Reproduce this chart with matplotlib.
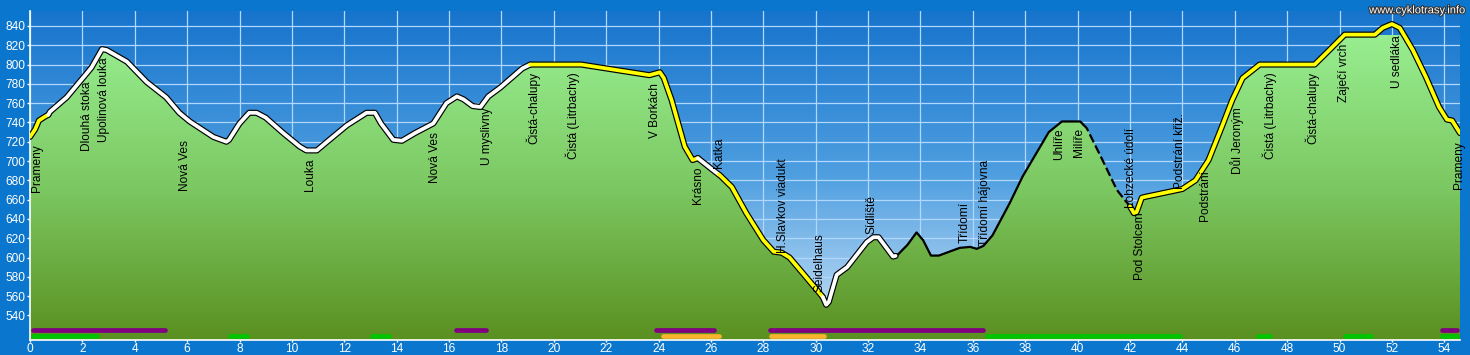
import numpy as np
import matplotlib
matplotlib.use('Agg')
import matplotlib.pyplot as plt
from matplotlib.colors import LinearSegmentedColormap
from matplotlib.patches import Polygon
import matplotlib.patheffects as pe

plt.rcParams['font.family'] = ['Liberation Sans', 'DejaVu Sans']

# profil trasy: vzdalenost (km) a nadmorska vyska (m)
km = [0.0, 0.2, 0.34, 0.57, 0.7, 0.76, 1.4, 2.2, 2.35, 2.75, 2.93, 3.7, 4.45, 5.2,
      5.7, 6.1, 7.0, 7.5, 7.6, 8.0, 8.37, 8.65, 9.0, 9.67, 10.3, 10.55, 10.95, 11.3,
      12.1, 12.85, 13.17, 13.4, 13.87, 14.2, 14.7, 15.4, 15.9, 16.3, 16.55, 16.9,
      17.2, 17.5, 17.95, 18.8, 19.1, 21.05, 23.65, 24.05, 24.2, 24.5, 24.75, 25.0,
      25.3, 25.5, 26.2, 26.35, 26.8, 27.35, 28.0, 28.4, 28.7, 29.0, 29.5, 30.15,
      30.27, 30.4, 30.5, 30.8, 31.2, 31.95, 32.2, 32.4, 32.95, 33.1, 33.5, 33.85,
      34.1, 34.4, 34.7, 35.5, 35.9, 36.15, 36.4, 36.75, 37.4, 37.9, 38.9, 39.4,
      40.1, 40.35, 40.95, 41.5, 41.85, 42.0, 42.15, 42.25, 42.45, 42.6, 44.0, 44.5,
      45.0, 45.5, 45.9, 46.3, 46.95, 49.05, 49.5, 50.2, 51.35, 51.65, 52.0, 52.3,
      52.8, 53.3, 53.8, 54.1, 54.3, 54.6]
elev = [725, 733, 742, 746, 748, 751, 766, 792, 797, 816, 815, 803, 782, 766,
        750, 741, 725, 720, 722, 739, 750, 750, 745, 729, 715, 711, 711, 719,
        737, 750, 750, 739, 722, 721, 729, 739, 760, 767, 764, 757,
        756, 767, 776, 796, 800, 800, 789, 792, 786, 763, 739, 715,
        701, 703, 688, 685, 673, 646, 618, 606, 605, 600, 584, 563,
        559, 551, 554, 582, 590, 616, 621, 621, 601, 602, 613, 626,
        618, 602, 602, 610, 611, 609, 612, 623, 656, 684, 730, 741,
        741, 734, 701, 670, 658, 653, 646, 647, 662, 663, 671, 680,
        701, 735, 763, 786, 800, 800, 812, 831, 831, 838, 842, 838,
        815, 787, 756, 743, 742, 729]

# typ povrchu / useku: od km, do km, styl
seg_from = [0.0, 0.7, 19.1, 25.5, 26.3, 30.27, 33.05, 40.2, 42.0]
seg_to = [0.7, 19.1, 25.5, 26.3, 30.27, 33.05, 40.2, 42.0, 54.6]
seg_style = ['yellow', 'white', 'yellow', 'white', 'yellow', 'white', 'thin', 'dashed', 'yellow']

# popisky mist
names = ['Prameny', 'Dlouhá stoka', 'Upolinová louka', 'Nová Ves', 'Louka', 'Nová Ves',
         'U myslivny', 'Čistá-chalupy', 'Čistá (Litrbachy)', 'V Borkách', 'Krásno', 'Katka',
         'H.Slavkov viadukt', 'Seidelhaus', 'Sídliště', 'Třídomí', 'Třídomí hájovna',
         'Uhlíře', 'Milíře', 'Lobzecké údolí', 'Pod Stolcem', 'Podstrání křiž.',
         'Podstrání', 'Důl Jeroným', 'Čistá (Litrbachy)', 'Čistá-chalupy', 'Zaječí vrch',
         'U sedláka', 'Prameny']
name_km = [0.27, 2.18, 2.82, 5.92, 10.69, 15.46, 17.44, 19.2, 20.73, 23.85, 25.5, 26.3,
           28.74, 30.15, 32.14, 35.69, 36.45, 39.31, 40.04, 42.02, 42.4, 43.89, 44.85,
           46.07, 47.33, 48.97, 50.19, 52.21, 54.55]
name_top = [717, 782, 807, 722, 703, 730, 755, 792, 792, 781, 694, 724, 703, 625, 665,
            658, 701, 734, 734, 734, 647, 750, 691, 756, 792, 792, 822, 830, 720]

# pruhy dole (typ cesty)
purple_from = [0.0, 16.15, 23.8, 28.15, 53.8]
purple_to = [5.27, 17.5, 26.2, 36.5, 54.6]
green_from = [0.0, 7.55, 12.95, 36.45, 46.8, 50.1, 53.8]
green_to = [2.67, 8.4, 13.8, 44.0, 47.45, 51.3, 54.6]
orange_from = [24.05, 28.2]
orange_to = [26.4, 30.4]

xmax = 54.6
ymin, ymax = 514.5, 855.5

fig = plt.figure(figsize=(14.7, 3.55), dpi=100, facecolor='#0b76cd')
ax = fig.add_axes([30 / 1470, 15 / 355, 1430 / 1470, 329 / 355])
ax.set_facecolor('none')
ax.set_xlim(0, xmax)
ax.set_ylim(ymin, ymax)

# obloha - gradient (nahore tmava, dole svetla)
grad = np.linspace(0, 1, 256).reshape(-1, 1)
sky = LinearSegmentedColormap.from_list('sky', ['#1774cc', '#4f9fe0', '#cfe5f8'])
ax.imshow(grad, extent=[0, xmax, ymin, ymax], aspect='auto', cmap=sky,
          origin='upper', zorder=0)

# mrizka
ax.set_axisbelow(True)
ax.set_xticks(np.arange(0, 56, 2))
ax.set_yticks(np.arange(540, 860, 20))
ax.grid(True, color='#b0d8ff', linewidth=0.9)

# zelena plocha pod profilem
verts = np.column_stack([np.r_[km[0], km, km[-1]], np.r_[ymin, elev, ymin]])
poly = Polygon(verts, closed=True, facecolor='none', edgecolor='none')
ax.add_patch(poly)
ground = LinearSegmentedColormap.from_list('ground', ['#98ee90', '#7cc862', '#5a9020'])
img = ax.imshow(grad, extent=[0, xmax, ymin, 830], aspect='auto', cmap=ground,
                origin='upper', zorder=2)
img.set_clip_path(poly)

# profil po usecich
km_a = np.array(km)
el_a = np.array(elev)
for a, b, st in zip(seg_from, seg_to, seg_style):
    mask = (km_a > a) & (km_a < b)
    xs = np.r_[a, km_a[mask], b]
    ys = np.r_[np.interp(a, km_a, el_a), el_a[mask], np.interp(b, km_a, el_a)]
    if st in ('yellow', 'white'):
        col = '#ffff00' if st == 'yellow' else 'white'
        ax.plot(xs, ys, color='black', lw=4.4, solid_capstyle='round', zorder=4)
        ax.plot(xs, ys, color=col, lw=2.7, solid_capstyle='round', zorder=5)
    elif st == 'thin':
        ax.plot(xs, ys, color='black', lw=1.6, zorder=4)
    else:
        ax.plot(xs, ys, color='black', lw=1.6, dashes=(4, 1.6), zorder=4)

# popisky
for n, x, t in zip(names, name_km, name_top):
    ax.text(x, t, n, rotation=90, ha='center', va='top', fontsize=8.6,
            color='black', zorder=6)

# pruhy
for a, b in zip(purple_from, purple_to):
    ax.plot([a + 0.1, b - 0.1], [525, 525], color='#800080', lw=3.4,
            solid_capstyle='round', zorder=6)
for a, b in zip(green_from, green_to):
    ax.plot([a + 0.1, b - 0.1], [519, 519], color='#00c400', lw=3.4,
            solid_capstyle='round', zorder=6)
for a, b in zip(orange_from, orange_to):
    ax.plot([a + 0.1, b - 0.1], [519, 519], color='#f8b42c', lw=3.4,
            solid_capstyle='round', zorder=7)

# osy
for s in ['top', 'right']:
    ax.spines[s].set_visible(False)
ax.spines['left'].set_color('white')
ax.spines['bottom'].set_color('white')
ax.spines['left'].set_linewidth(1.2)
ax.spines['bottom'].set_linewidth(1.2)
ax.tick_params(colors='white', labelsize=8.6, length=2.5, width=1, pad=1)
ax.tick_params(axis='x', length=1.5, pad=0.5)

fig.text(0.997, 0.985, 'www.cyklotrasy.info', ha='right', va='top', fontsize=8,
         color='white', path_effects=[pe.withStroke(linewidth=1.5, foreground='#303030')])

fig.savefig('out.png', dpi=100, facecolor=fig.get_facecolor())
